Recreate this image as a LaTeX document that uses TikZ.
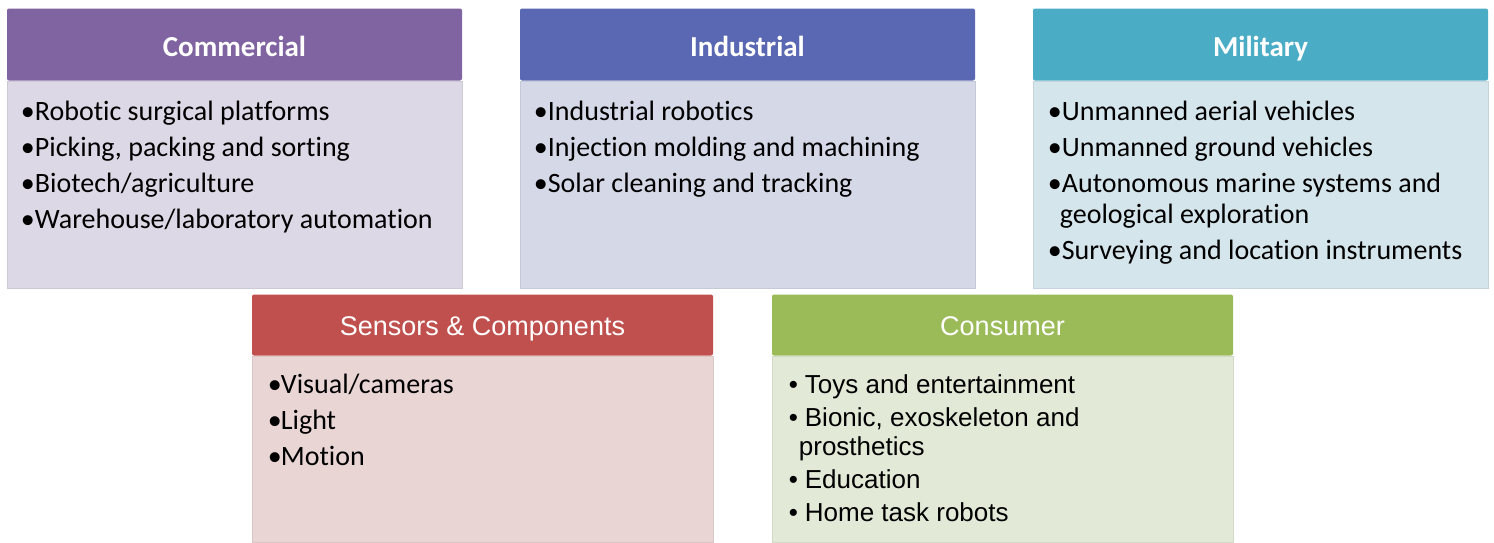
\documentclass[tikz,border=0pt]{standalone}
\usepackage{fontspec}
\setmainfont{Carlito}[Ligatures={NoCommon}]
\newfontfamily\gothic{Liberation Sans}
\usetikzlibrary{positioning}

\definecolor{comHead}{HTML}{8064A2}
\definecolor{comFill}{HTML}{DCD8E5}
\definecolor{indHead}{HTML}{5A67B3}
\definecolor{indFill}{HTML}{D5D8E7}
\definecolor{milHead}{HTML}{4BACC6}
\definecolor{milFill}{HTML}{D5E5EC}
\definecolor{senHead}{HTML}{C0504D}
\definecolor{senFill}{HTML}{EAD5D5}
\definecolor{conHead}{HTML}{9BBB59}
\definecolor{conFill}{HTML}{E2E9D6}

% bullet with fixed width
\newcommand{\bul}[1][14pt]{\makebox[#1][l]{•}}

\tikzset{
  head/.style={rectangle, rounded corners=2pt, minimum width=455pt, minimum height=72pt,
    inner sep=0pt, text=white, text height=29pt, text depth=6pt,
    font=\fontsize{29}{32}\selectfont\bfseries, fill=#1},
  body/.style={rectangle, minimum width=455pt, minimum height=207pt, inner sep=0pt,
    fill=#1, draw=#1!93!black, line width=0.6pt},
  items/.style={anchor=north west, inner sep=0pt, align=left,
    font=\fontsize{28}{36}\selectfont},
  lowhead/.style={minimum width=461pt, minimum height=61pt, text height=26pt,
    font=\gothic\fontsize{27}{30}\selectfont},
}

\begin{document}
\begin{tikzpicture}[x=1pt,y=-1pt]
   \useasboundingbox (0,0) rectangle (1494,542);
   % top row
   \node[body=comFill] (comBody) at (234.5,184.5) {};
   \node[head=comHead, above=0pt of comBody] (com) {Commercial};
   \node[items] (comList) at ([xshift=14pt,yshift=-20pt]comBody.north west)
   {\bul Robotic surgical platforms\\
    \bul Picking, packing and sorting\\
    \bul Biotech/agriculture\\
    \bul Warehouse/laboratory automation};
   %
   \node[body=indFill] (indBody) at (747.5,184.5) {};
   \node[head=indHead, above=0pt of indBody] (ind) {Industrial};
   \node[items] (indList) at ([xshift=14pt,yshift=-20pt]indBody.north west)
   {\bul Industrial robotics\\
    \bul Injection molding and machining\\
    \bul Solar cleaning and tracking};
   %
   \node[body=milFill] (milBody) at (1260.5,184.5) {};
   \node[head=milHead, above=0pt of milBody] (mil) {Military};
   \node[items] (milList) at ([xshift=15pt,yshift=-20pt]milBody.north west)
   {\bul Unmanned aerial vehicles\\
    \bul Unmanned ground vehicles\\
    \bul Autonomous marine systems and\\[-5pt]
    \hspace*{12pt}geological exploration\\
    \bul Surveying and location instruments};
   % bottom row
   \node[body=senFill, minimum width=461pt, minimum height=186pt] (senBody) at (482.5,449) {};
   \node[head=senHead, lowhead, above=0pt of senBody] (sen) {Sensors \& Components};
   \node[items] (senList) at ([xshift=16pt,yshift=-18pt]senBody.north west)
   {\bul[13pt]Visual/cameras\\
    \bul[13pt]Light\\
    \bul[13pt]Motion};
   %
   \node[body=conFill, minimum width=461pt, minimum height=186pt] (conBody) at (1002.5,449) {};
   \node[head=conHead, lowhead, above=0pt of conBody] (con) {Consumer};
   \node[items, font=\gothic\fontsize{26}{33}\selectfont] (conList)
     at ([xshift=17pt,yshift=-19pt]conBody.north west)
   {\bul[16pt]Toys and entertainment\\
    \bul[16pt]Bionic, exoskeleton and\\[-4pt]
    \hspace*{10pt}prosthetics\\
    \bul[16pt]Education\\
    \bul[16pt]Home task robots};
\end{tikzpicture}
\end{document}
